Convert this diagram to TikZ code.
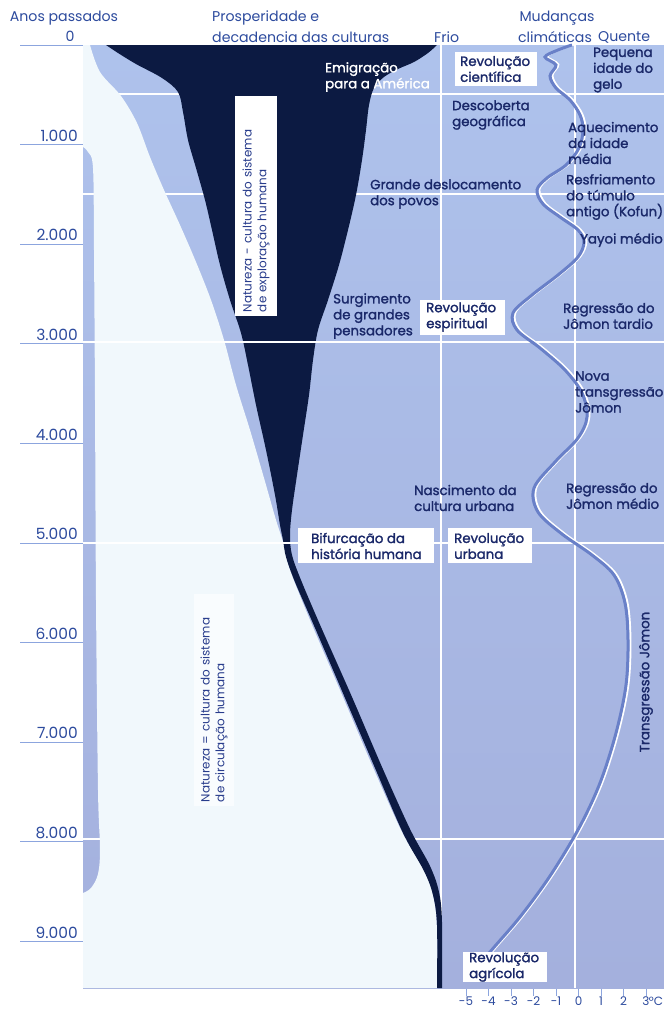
\documentclass[tikz,border=0pt]{standalone}
\usepackage{fontspec}
\setmainfont{Poppins}
\newfontfamily\labfont{Poppins}[FakeBold=1.6]
\definecolor{panel}{RGB}{174,194,236}
\definecolor{panelb}{RGB}{164,176,221}
\definecolor{pale}{RGB}{241,248,252}
\definecolor{darkblue}{RGB}{12,26,66}
\definecolor{navy}{RGB}{26,40,105}
\definecolor{rotnavy}{RGB}{40,60,140}
\definecolor{axisblue}{RGB}{45,75,158}
\definecolor{curveblue}{RGB}{105,128,200}
\definecolor{tickblue}{RGB}{140,165,222}
\begin{document}
\begin{tikzpicture}[x=1bp,y=-1bp,
  lab/.style={font=\labfont\fontsize{13.4}{16}\selectfont, text=navy, align=left, inner sep=0pt, anchor=west},
  wlab/.style={lab, text=white},
  boxfill/.style={fill=white},
  rotlab/.style={font=\fontsize{12}{15}\selectfont, text=rotnavy, align=left, rotate=90, inner xsep=4bp, inner ysep=3bp},
  hdr/.style={font=\fontsize{14.2}{16}\selectfont, text=axisblue, inner sep=0pt},
  yr/.style={font=\fontsize{15.5}{18}\selectfont, text=axisblue, anchor=east, inner sep=0pt},
  tk/.style={font=\fontsize{12}{14}\selectfont, text=axisblue, inner sep=0pt},
  gridline/.style={white, line width=2.2bp},
  tickline/.style={tickblue, line width=0.9bp},
]
\useasboundingbox (0,0) rectangle (664,1010);
\fill[white] (0,0) rectangle (664,1010);
% panel
\shade[top color=panel, bottom color=panelb] (83,45) rectangle (664,988);
% grid lines under shapes
\foreach \gy in {94,194,839} \draw[gridline] (83,\gy) -- (664,\gy);
\foreach \gx in {441,575} \draw[gridline] (\gx,45) -- (\gx,988);
% pale region
\fill[pale] (83,45) -- (90,45) -- plot[smooth, tension=0.55] coordinates {(90,45) (100,72) (121,96) (137,123) (150,157) (164,190) (180,225) (196,262) (211,300) (224,340) (236,385) (250,430) (264,478) (276,520) (284,545) (290,570) (310,620) (340,690) (372,765) (402,832) (425,872) (434,900) (437,930) (438,988)} -- (83,988) -- (83,893) -- plot[smooth, tension=0.55] coordinates {(83,893) (91,888) (98,874) (100,848) (98,790) (96,600) (95,400) (94,250) (93,168) (88,152) (83,147)} -- cycle;
% dark region
\fill[darkblue] (106,45) -- (437,45) -- plot[smooth, tension=0.55] coordinates {(437,45) (428,53) (414,62) (398,69) (384,77) (374,88) (369,105) (366,130) (362,160) (356,195) (348,230) (339,265) (328,300) (318,330) (313,360) (309,395) (303,435) (297,475) (292,510) (290,535) (292,555) (301,580) (321,627) (352,697) (382,767) (410,829) (430,866) (439,892) (442,922) (442,988)} -- (437,988) -- plot[smooth, tension=0.55] coordinates {(437,988) (437,925) (433,895) (424,871) (403,833) (375,768) (345,698) (315,628) (295,582) (286,557) (283,540) (280,525) (275,495) (266,450) (256,405) (248,365) (241,333) (230,300) (220,265) (212,230) (205,200) (196,168) (188,140) (183,112) (178,92) (162,78) (136,64) (118,53) (106,45)} -- cycle;
% grid lines crossing the dark shape
\foreach \gy in {342,543} \draw[gridline] (83,\gy) -- (664,\gy);
% climate curve
\draw[white, line width=2bp, xshift=2.4bp, yshift=0.6bp] plot[smooth, tension=0.55] coordinates {(572,45) (558,50) (545,57) (556,65) (550,76) (556,88) (570,100) (580,115) (583,130) (579,148) (566,165) (547,178) (537,190) (543,204) (560,217) (578,230) (584,242) (578,257) (558,275) (532,295) (513,313) (517,330) (540,348) (565,370) (582,393) (587,417) (578,438) (555,462) (534,488) (538,512) (562,534) (592,555) (614,575) (625,603) (628,640) (626,685) (616,733) (600,783) (579,828) (550,876) (520,917) (490,952) (472,975)};
\draw[curveblue, line width=3bp] plot[smooth, tension=0.55] coordinates {(572,45) (558,50) (545,57) (556,65) (550,76) (556,88) (570,100) (580,115) (583,130) (579,148) (566,165) (547,178) (537,190) (543,204) (560,217) (578,230) (584,242) (578,257) (558,275) (532,295) (513,313) (517,330) (540,348) (565,370) (582,393) (587,417) (578,438) (555,462) (534,488) (538,512) (562,534) (592,555) (614,575) (625,603) (628,640) (626,685) (616,733) (600,783) (579,828) (550,876) (520,917) (490,952) (472,975)};
% white boxes
\fill[boxfill] (455,52) rectangle (537,86);
\fill[boxfill] (420,300) rectangle (505,335);
\fill[boxfill] (298,528) rectangle (434,563);
\fill[boxfill] (448,528) rectangle (532,563);
\fill[boxfill] (463,952) rectangle (547,982);
% header
\node[hdr] (hAnos) at (64,18) {Anos passados};
\node[hdr] (hZero) at (70,36) {0};
\node[hdr, anchor=west] (hPros) at (212,18) {Prosperidade e};
\node[hdr, anchor=west] (hDeca) at (212,37) {decadencia das culturas};
\node[hdr, anchor=west] (hFrio) at (434,37) {Frio};
\node[hdr] (hMud) at (557,18) {Mudanças};
\node[hdr] (hClim) at (555,37) {climáticas};
\node[hdr, anchor=west] (hQuen) at (598,37) {Quente};
\draw[tickline] (20,45) -- (83,45);
% year axis
\foreach \k/\lbl in {1/1.000,2/2.000,3/3.000,4/4.000,5/5.000,6/6.000,7/7.000,8/8.000,9/9.000} {
  \pgfmathsetmacro{\ly}{45+99.6*\k}
  \node[yr] (yr\k) at (78,\ly-9) {\lbl};
  \draw[tickline] (20,\ly) -- (83,\ly);
}
% labels
\node[wlab] (emig) at (325,77) {Emigração\\para a América};
\node[lab] (revcie) at (460,69) {Revolução\\científica};
\node[lab] (peq) at (593,70) {Pequena\\idade do\\gelo};
\node[lab] (desc) at (452,115) {Descoberta\\geográfica};
\node[lab] (aque) at (568,143) {Aquecimento\\da idade\\média};
\node[lab] (gran) at (370,194) {Grande deslocamento\\dos povos};
\node[lab] (resf) at (566,197) {Resfriamento\\do túmulo\\antigo (Kofun)};
\node[lab] (yayoi) at (580,240) {Yayoi médio};
\node[lab] (surg) at (333,316) {Surgimento\\de grandes\\pensadores};
\node[lab] (revesp) at (426,317) {Revolução\\espiritual};
\node[lab] (regt) at (563,316) {Regressão do\\Jômon tardio};
\node[lab] (nova) at (575,392) {Nova\\transgressão\\Jômon};
\node[lab] (nasc) at (414,498) {Nascimento da\\cultura urbana};
\node[lab] (regm) at (566,496) {Regressão do\\Jômon médio};
\node[lab] (bifur) at (311,546) {Bifurcação da\\história humana};
\node[lab] (revurb) at (454,546) {Revolução\\urbana};
\node[lab] (revagr) at (469,967) {Revolução\\agrícola};
\node[lab, anchor=center, rotate=90] (transj) at (646,682) {Transgressão Jômon};
\node[rotlab, fill=white, text width=212bp, minimum height=42bp] (natexp) at (256,206) {Natureza - cultura do sistema\\de exploração humana};
\node[rotlab, fill=white!60!pale, text width=204bp, minimum height=40bp] (natcirc) at (214,700) {Natureza = cultura do sistema\\de circulação humana};
% temperature axis
\foreach \t [count=\i] in {-5,-4,-3,-2,-1,0,1,2,3} {
  \pgfmathsetmacro{\tx}{466+22.5*(\t+5)}
  \draw[tickline] (\tx,989) -- (\tx,996);
  \node[tk] (tl\i) at (\tx,1001.5) {\t};
}
\node[tk] (degc) at (656,1001) {°C};
\end{tikzpicture}
\end{document}
